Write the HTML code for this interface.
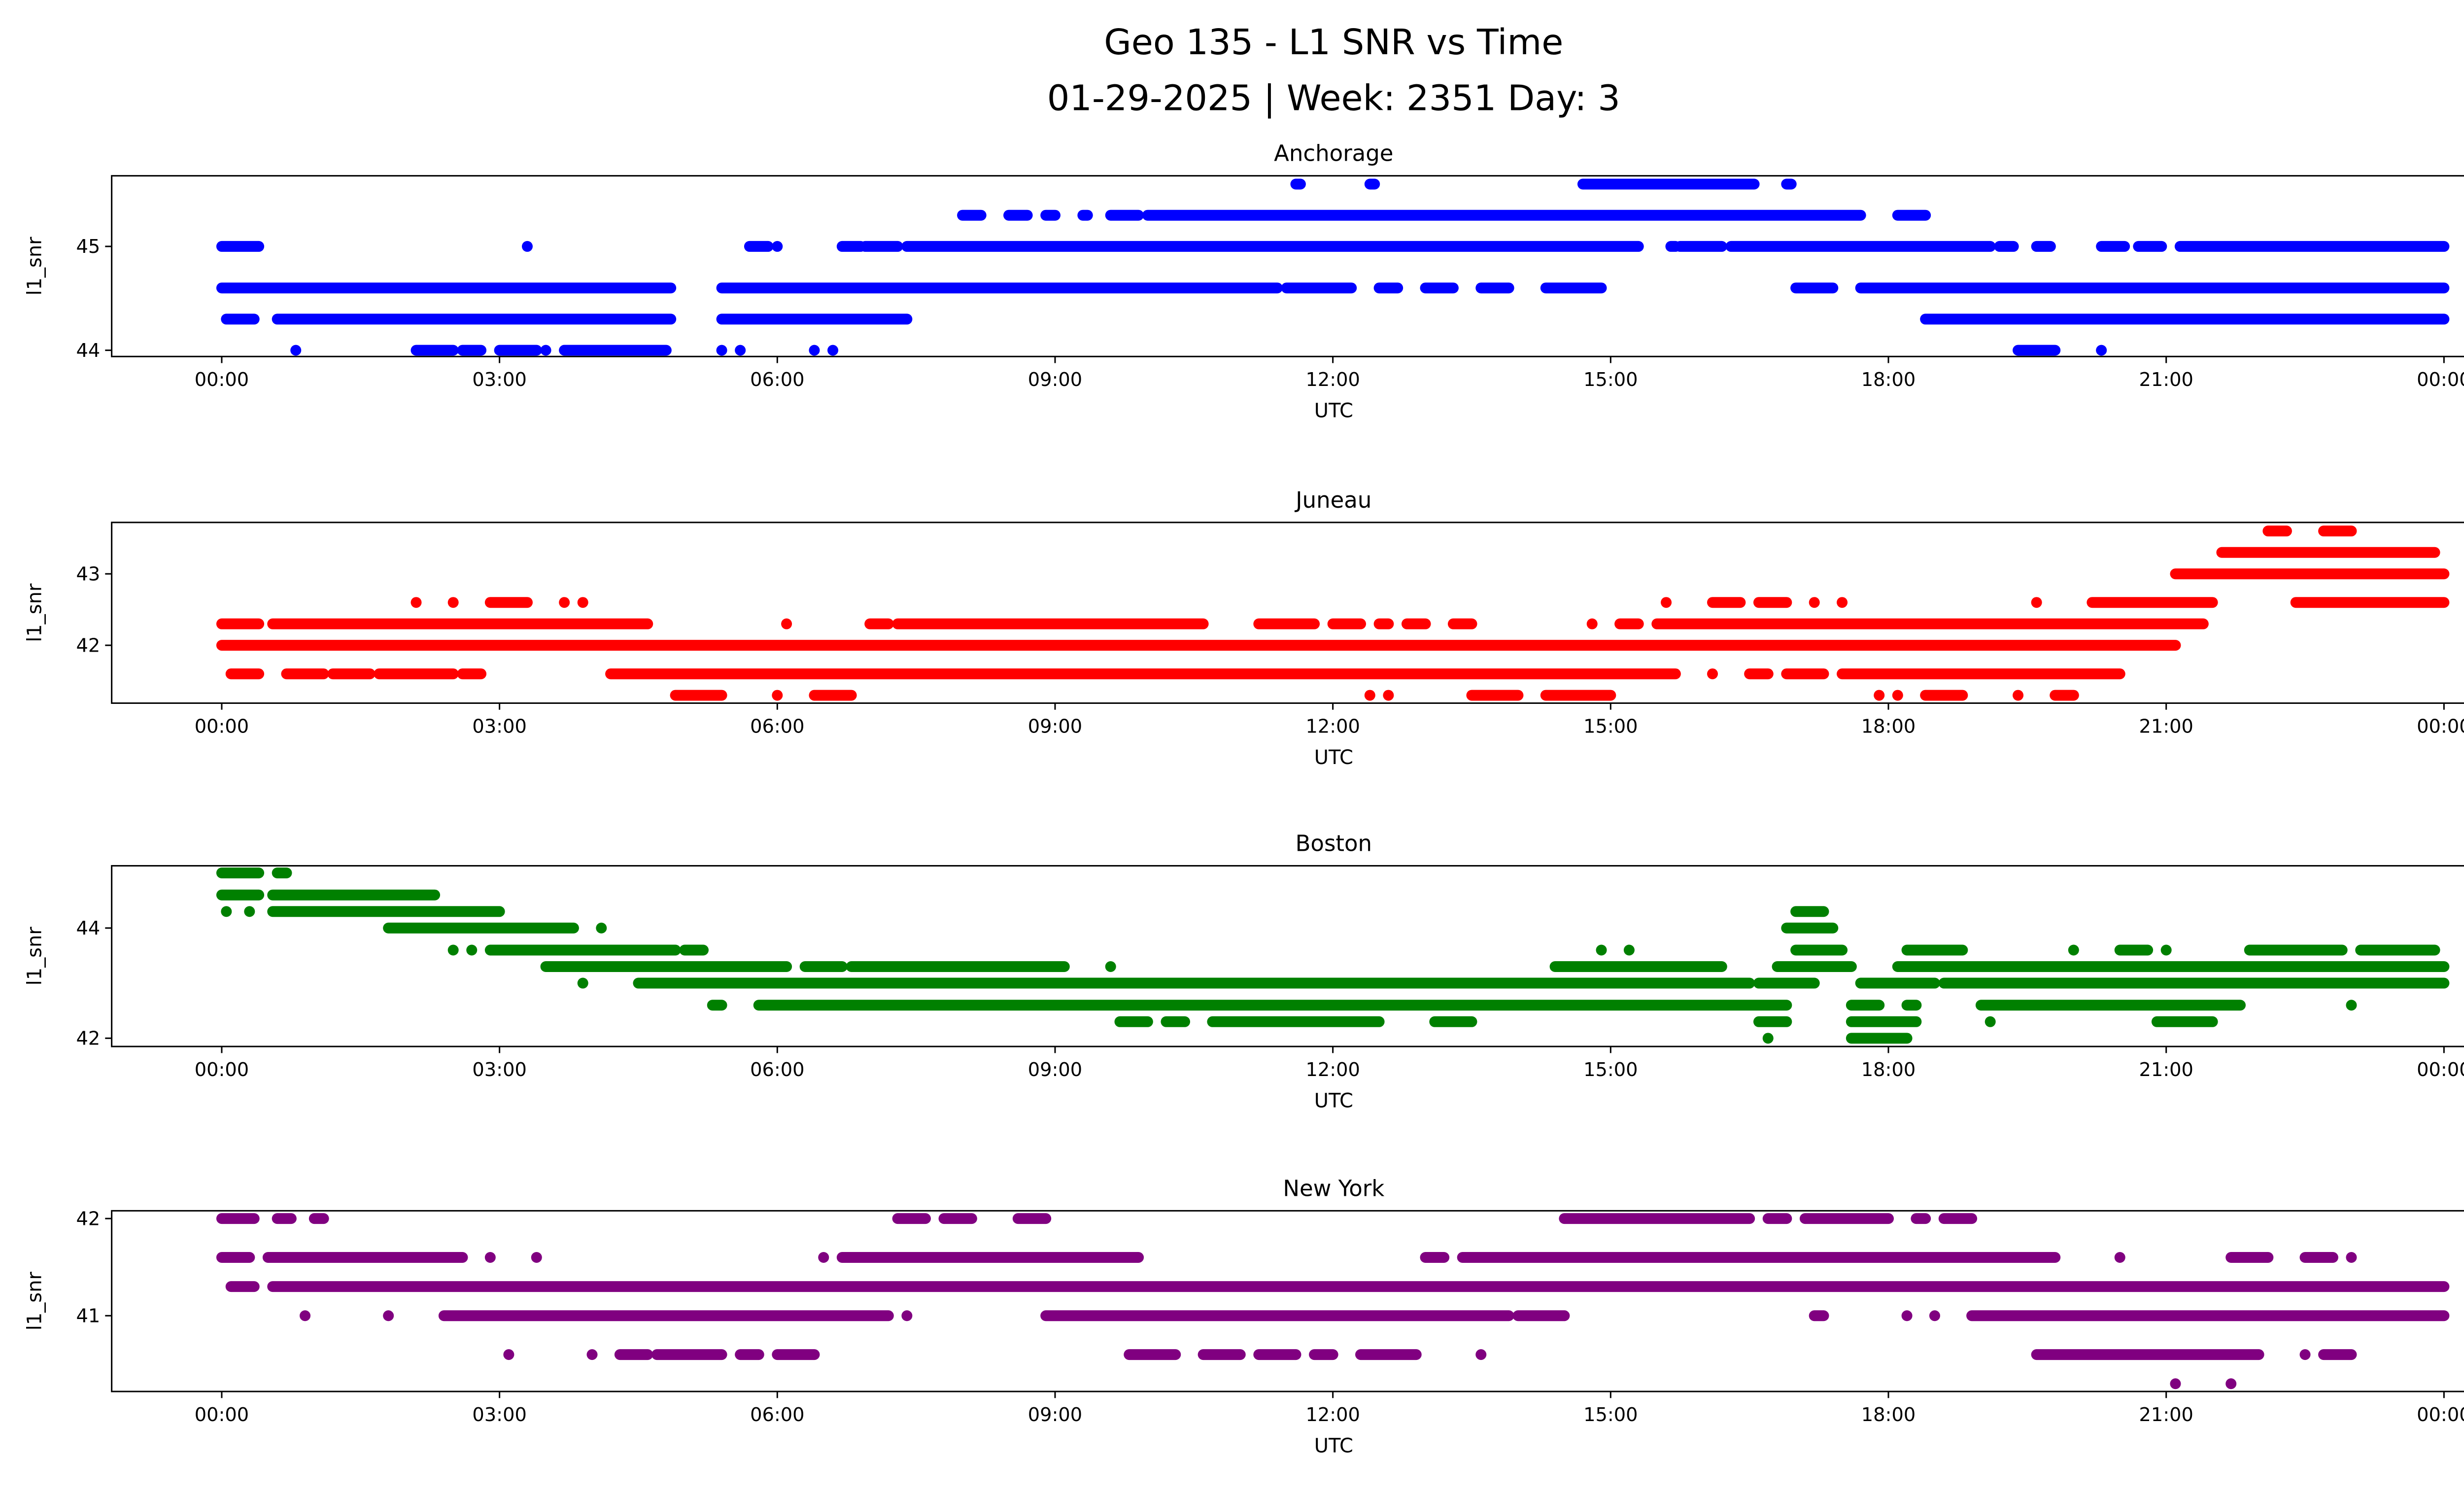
<!DOCTYPE html>
<html><head><meta charset="utf-8">
<style>
html,body{margin:0;padding:0;background:#fff;overflow:hidden;width:5226px;height:3033px;}
svg{display:block;font-family:"DejaVu Sans","Liberation Sans",sans-serif;}
</style></head>
<body>
<svg id="fig" width="5226" height="3033" viewBox="0 0 1568 910" xmlns="http://www.w3.org/2000/svg">
<rect width="1568" height="910" fill="#fff"/>
<text x="812" y="33" font-size="21.5" text-anchor="middle">Geo 135 - L1 SNR vs Time</text>
<text x="812" y="67" font-size="21.5" text-anchor="middle">01-29-2025 | Week: 2351 Day: 3</text>
</svg>
<script>
// Shared x-axis (hours UTC)
const xTickLabels = ["00:00","03:00","06:00","09:00","12:00","15:00","18:00","21:00","00:00"];
const xTickHours = [0,3,6,9,12,15,18,21,24];

// Panel titles / colors
const stations = ["Anchorage","Juneau","Boston","New York"];
const colors = ["#0000ff","#ff0000","#008000","#800080"];
const yTicks = [[44,45],[42,43],[42,44],[41,42]];
const yLims = [[43.94,45.68],[41.19,43.72],[41.85,45.13],[40.22,42.08]];

// Series data: [snr level, [[startHour,endHour], ...]]
const anchorage = [
 [45.6,[[11.6,11.65],[12.4,12.45],[14.7,16.55],[16.9,16.95]]],
 [45.3,[[8.0,8.2],[8.5,8.7],[8.9,9.0],[9.3,9.35],[9.6,9.9],[10.0,17.7],[18.1,18.4]]],
 [45.0,[[0,0.4],[3.3,3.3],[5.7,5.9],[6.0,6.0],[6.7,6.9],[6.95,7.3],[7.4,15.3],[15.65,15.7],[15.75,16.2],[16.3,19.1],[19.2,19.35],[19.6,19.75],[20.3,20.55],[20.7,20.95],[21.15,24]]],
 [44.6,[[0,4.85],[5.4,11.4],[11.5,12.2],[12.5,12.7],[13.0,13.3],[13.6,13.9],[14.3,14.9],[17.0,17.4],[17.7,24]]],
 [44.3,[[0.05,0.35],[0.6,4.85],[5.4,7.4],[18.4,24]]],
 [44.0,[[0.8,0.8],[2.1,2.5],[2.6,2.8],[3.0,3.4],[3.5,3.5],[3.7,4.8],[5.4,5.4],[5.6,5.6],[6.4,6.4],[6.6,6.6],[19.4,19.8],[20.3,20.3]]]
];
const juneau = [
 [43.6,[[22.1,22.3],[22.7,23.0]]],
 [43.3,[[21.6,23.9]]],
 [43.0,[[21.1,24]]],
 [42.6,[[2.1,2.1],[2.5,2.5],[2.9,3.3],[3.7,3.7],[3.9,3.9],[15.6,15.6],[16.1,16.4],[16.6,16.9],[17.2,17.2],[17.5,17.5],[19.6,19.6],[20.2,21.5],[22.4,24]]],
 [42.3,[[0,0.4],[0.55,4.6],[6.1,6.1],[7.0,7.2],[7.3,10.6],[11.2,11.8],[12.0,12.3],[12.5,12.6],[12.8,13.0],[13.3,13.5],[14.8,14.8],[15.1,15.3],[15.5,21.4]]],
 [42.0,[[0,21.1]]],
 [41.6,[[0.1,0.4],[0.7,1.1],[1.2,1.6],[1.7,2.5],[2.6,2.8],[4.2,15.7],[16.1,16.1],[16.5,16.7],[16.9,17.3],[17.5,20.5]]],
 [41.3,[[4.9,5.4],[6.0,6.0],[6.4,6.8],[12.4,12.4],[12.6,12.6],[13.5,14.0],[14.3,15.0],[17.9,17.9],[18.1,18.1],[18.4,18.8],[19.4,19.4],[19.8,20.0]]]
];
const boston = [
 [45.0,[[0,0.4],[0.6,0.7]]],
 [44.6,[[0,0.4],[0.55,2.3]]],
 [44.3,[[0.05,0.05],[0.3,0.3],[0.55,3.0],[17.0,17.3]]],
 [44.0,[[1.8,3.8],[4.1,4.1],[16.9,17.4]]],
 [43.6,[[2.5,2.5],[2.7,2.7],[2.9,4.9],[5.0,5.2],[14.9,14.9],[15.2,15.2],[17.0,17.5],[18.2,18.8],[20.0,20.0],[20.5,20.8],[21.0,21.0],[21.9,22.9],[23.1,23.9]]],
 [43.3,[[3.5,6.1],[6.3,6.7],[6.8,9.1],[9.6,9.6],[14.4,16.2],[16.8,17.6],[18.1,24]]],
 [43.0,[[3.9,3.9],[4.5,16.5],[16.6,17.2],[17.7,18.5],[18.6,24]]],
 [42.6,[[5.3,5.4],[5.8,16.9],[17.6,17.9],[18.2,18.3],[19.0,21.8],[23.0,23.0]]],
 [42.3,[[9.7,10.0],[10.2,10.4],[10.7,12.5],[13.1,13.5],[16.6,16.9],[17.6,18.3],[19.1,19.1],[20.9,21.5]]],
 [42.0,[[16.7,16.7],[17.6,18.2]]]
];
const newYork = [
 [42.0,[[0,0.35],[0.6,0.75],[1.0,1.1],[7.3,7.6],[7.8,8.1],[8.6,8.9],[14.5,16.5],[16.7,16.9],[17.1,18.0],[18.3,18.4],[18.6,18.9]]],
 [41.6,[[0,0.3],[0.5,2.6],[2.9,2.9],[3.4,3.4],[6.5,6.5],[6.7,9.9],[13.0,13.2],[13.4,19.8],[20.5,20.5],[21.7,22.1],[22.5,22.8],[23.0,23.0]]],
 [41.3,[[0.1,0.35],[0.55,24]]],
 [41.0,[[0.9,0.9],[1.8,1.8],[2.4,7.2],[7.4,7.4],[8.9,13.9],[14.0,14.5],[17.2,17.3],[18.2,18.2],[18.5,18.5],[18.9,24]]],
 [40.6,[[3.1,3.1],[4.0,4.0],[4.3,4.6],[4.7,5.4],[5.6,5.8],[6.0,6.4],[9.8,10.3],[10.6,11.0],[11.2,11.6],[11.8,12.0],[12.3,12.9],[13.6,13.6],[19.6,22.0],[22.5,22.5],[22.7,23.0]]],
 [40.3,[[21.1,21.1],[21.7,21.7]]]
];
const seriesAll = [anchorage, juneau, boston, newYork];

const NS = "http://www.w3.org/2000/svg";
const svg = document.getElementById("fig");
const L = 68, R = 1556, X0 = 135, X24 = 1488;
const tops = [107, 318, 527, 737], H = 110;
function xs(h){ return X0 + (X24 - X0) * h / 24; }
function mk(tag, attrs, parent){
  const e = document.createElementNS(NS, tag);
  for (const k in attrs) e.setAttribute(k, attrs[k]);
  (parent || svg).appendChild(e); return e;
}

for (let p = 0; p < 4; p++) {
  const top = tops[p], bot = top + H;
  const [y0, y1] = yLims[p];
  const ys = v => bot - (v - y0) / (y1 - y0) * H;
  const g = mk("g", {});
  
  
  const clipId = "clip" + p;
  const cp = mk("clipPath", {id: clipId}, g);
  mk("rect", {x: L, y: top, width: R - L, height: H}, cp);
  const marks = mk("g", {"clip-path": "url(#" + clipId + ")"}, g);
  
  
  for (const [lvl, ivs] of seriesAll[p]) {
    for (const [s, e] of ivs) {
      const y = ys(lvl);
      let el;
      if (e - s < 0.01) {
        el = mk("circle", {cx: xs(s), cy: y, r: 3.3, fill: colors[p]}, marks);
      } else {
        el = mk("line", {x1: xs(s), y1: y, x2: xs(e), y2: y, stroke: colors[p], "stroke-width": 6.6, "stroke-linecap": "round"}, marks);
      }
      
      
    }
  }
  const frame = mk("rect", {x: L, y: top, width: R - L, height: H, fill: "none", stroke: "#000", "stroke-width": 0.9}, g);
  
  
  xTickHours.forEach((h, i) => {
    const x = xs(h);
    mk("line", {x1: x, y1: bot, x2: x, y2: bot + 4, stroke: "#000", "stroke-width": 0.9}, g);
    const t = mk("text", {x: x, y: bot + 18, "font-size": 11.5, "text-anchor": "middle"}, g);
    t.textContent = xTickLabels[i];
    
    
  });
  yTicks[p].forEach(v => {
    const y = ys(v);
    mk("line", {x1: L - 4, y1: y, x2: L, y2: y, stroke: "#000", "stroke-width": 0.9}, g);
    const t = mk("text", {x: L - 7, y: y + 4, "font-size": 11.5, "text-anchor": "end"}, g);
    t.textContent = v;
    
    
  });
  const xl = mk("text", {x: (L + R) / 2, y: bot + 37, "font-size": 12, "text-anchor": "middle"}, g);
  xl.textContent = "UTC";
  
  
  const yl = mk("text", {x: 0, y: 0, "font-size": 12, "text-anchor": "middle", transform: "translate(25," + (top + H / 2) + ") rotate(-90)"}, g);
  yl.textContent = "l1_snr";
  
  
  const st = mk("text", {x: (L + R) / 2, y: top - 9, "font-size": 13.5, "text-anchor": "middle"}, g);
  st.textContent = stations[p];
  
  
}
</script>
</body></html>
